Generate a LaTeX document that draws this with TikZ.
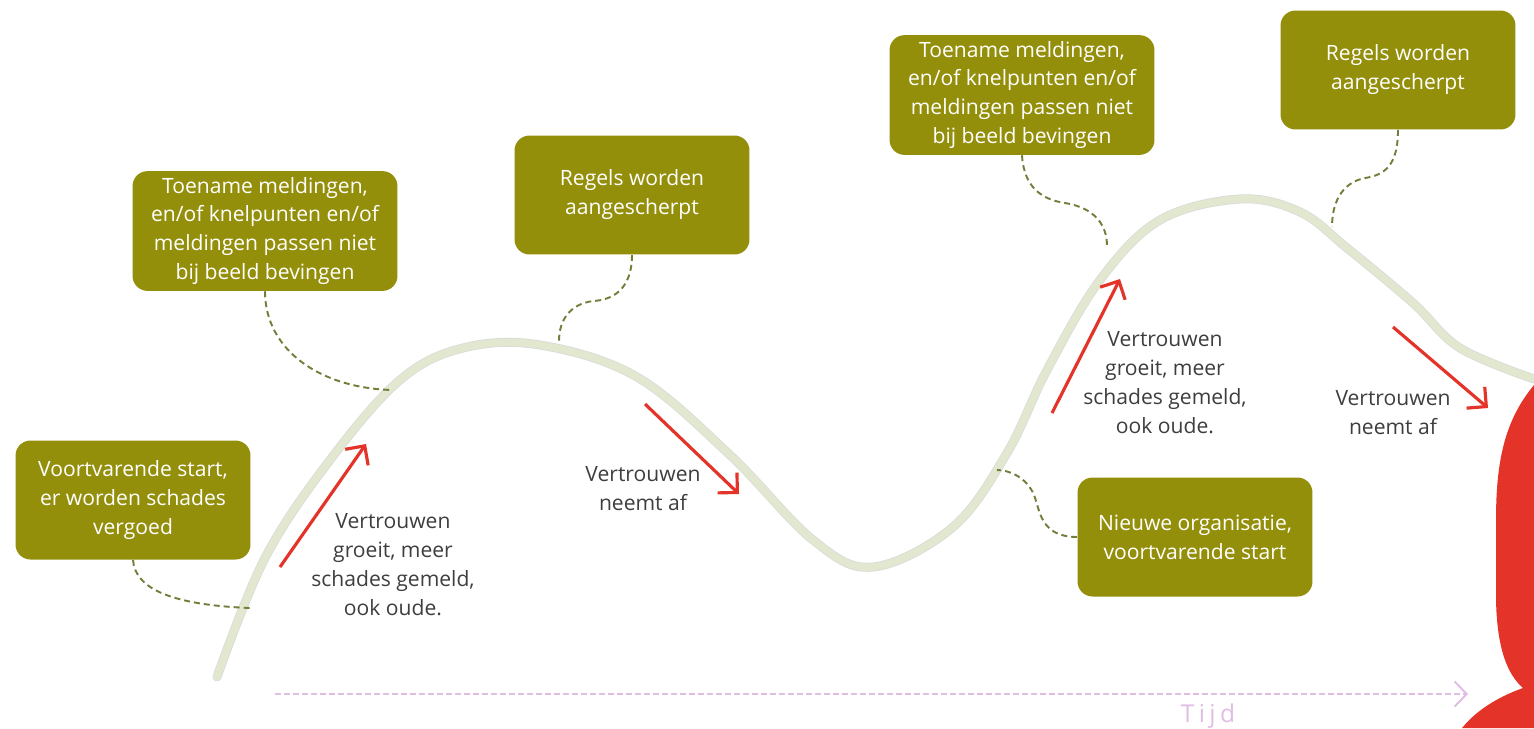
\documentclass[tikz,border=0pt]{standalone}
\usepackage{fontspec}
\setmainfont{Open Sans}
\usepackage{tikz}
\usetikzlibrary{arrows.meta, positioning}
\definecolor{olive}{RGB}{148,143,11}
\definecolor{linkgreen}{RGB}{112,128,58}
\definecolor{curvegreen}{RGB}{226,232,207}
\definecolor{trendred}{RGB}{228,52,42}
\definecolor{textgray}{RGB}{62,62,62}
\definecolor{timepink}{RGB}{224,190,228}
\newfontfamily\timefont[LetterSpace=18]{Open Sans}
\tikzset{
    note/.style={rectangle, rounded corners=0.3cm, minimum width=4.7cm, minimum height=2.38cm, text centered, fill=olive, text=white, align=center, font=\fontsize{12}{16.5}\selectfont},
    widenote/.style={note, minimum width=5.3cm},
    lbl/.style={text centered, align=center, text=textgray, font=\fontsize{12}{16.5}\selectfont},
    link/.style={thick, draw=linkgreen, line width=1.1pt, dash pattern=on 0.12cm off 0.08cm},
    trend/.style={-{Straight Barb[length=2.8mm, width=5.6mm]}, line width=1.8pt, draw=trendred},
    timeline/.style={-{Straight Barb[length=2.4mm, width=5mm]}, line width=1.1pt, draw=timepink, dash pattern=on 0.12cm off 0.06cm}
}
\begin{document}
\begin{tikzpicture}[x=0.02cm, y=-0.02cm]
    \useasboundingbox (0,0) rectangle (1534,728);

    % Red shape at the right edge
    \fill[trendred] (1534,385) .. controls (1505,420) and (1496,460) .. (1496,520) -- (1496,600)
        .. controls (1497,650) and (1508,675) .. (1523,688) .. controls (1495,698) and (1475,712) .. (1462,728)
        -- (1534,728) -- cycle;

    % Trust curve
    \draw[line width=0.18cm, color=gray!30, line cap=round] plot[smooth, tension=0.6] coordinates {(217,677) (265,558) (330,460) (400,380) (463,348) (540,345) (637,377) (730,455) (813,540) (873,567) (953,527) (1007,453) (1047,370) (1100,280) (1160,220) (1240,199) (1300,212) (1347,248) (1413,303) (1460,348) (1534,379)};
    \draw[line width=0.15cm, color=curvegreen, line cap=round] plot[smooth, tension=0.6] coordinates {(217,677) (265,558) (330,460) (400,380) (463,348) (540,345) (637,377) (730,455) (813,540) (873,567) (953,527) (1007,453) (1047,370) (1100,280) (1160,220) (1240,199) (1300,212) (1347,248) (1413,303) (1460,348) (1534,379)};

    % Boxes
    \node[note] (start) at (133,500) {Voortvarende start,\\ er worden schades\\ vergoed};
    \node[widenote] (meldingen1) at (265,231) {Toename meldingen,\\ en/of knelpunten en/of\\ meldingen passen niet\\ bij beeld bevingen};
    \node[note] (regels1) at (632,195) {Regels worden\\ aangescherpt};
    \node[widenote] (meldingen2) at (1022,95) {Toename meldingen,\\ en/of knelpunten en/of\\ meldingen passen niet\\ bij beeld bevingen};
    \node[note] (regels2) at (1398,70) {Regels worden\\ aangescherpt};
    \node[note] (nieuw) at (1195,537) {Nieuwe organisatie,\\ voortvarende start};

    % Points on the curve
    \coordinate (p1) at (250,608);
    \coordinate (p2) at (392,390);
    \coordinate (p3) at (559,341);
    \coordinate (p4) at (1107,246);
    \coordinate (p5) at (1332,227);
    \coordinate (p6) at (997,470);

    % Dashed links
    \draw[link] (start.south) .. controls (135,590) and (175,605) .. (p1);
    \draw[link] (meldingen1.south) .. controls (265,350) and (320,388) .. (p2);
    \draw[link] (regels1.south) .. controls (632,290) and (612,300) .. (593,301) .. controls (570,304) and (559,320) .. (p3);
    \draw[link] (meldingen2.south) .. controls (1024,190) and (1045,200) .. (1065,203) .. controls (1095,208) and (1107,225) .. (p4);
    \draw[link] (regels2.south) .. controls (1398,165) and (1385,175) .. (1365,178) .. controls (1340,183) and (1332,205) .. (p5);
    \draw[link] (nieuw.west) .. controls (1040,537) and (1040,510) .. (1034,495) .. controls (1027,478) and (1010,470) .. (p6);

    % Trend arrows
    \coordinate (a1) at (280,567); \coordinate (b1) at (366,444);
    \coordinate (a2) at (645,404); \coordinate (b2) at (739,494);
    \coordinate (a3) at (1052,413); \coordinate (b3) at (1120,279);
    \coordinate (a4) at (1393,327); \coordinate (b4) at (1488,408);
    \draw[trend] (a1) -- (b1);
    \draw[trend] (a2) -- (b2);
    \draw[trend] (a3) -- (b3);
    \draw[trend] (a4) -- (b4);

    % Labels
    \node[lbl] (groei1) at (393,565) {Vertrouwen\\ groeit, meer\\ schades gemeld,\\ ook oude.};
    \node[lbl] (afname1) at (643,489) {Vertrouwen\\ neemt af};
    \node[lbl] (groei2) at (1165,383) {Vertrouwen\\ groeit, meer\\ schades gemeld,\\ ook oude.};
    \node[lbl] (afname2) at (1393,413) {Vertrouwen\\ neemt af};

    % Time axis
    \coordinate (t0) at (275,694);
    \coordinate (t1) at (1468,694);
    \draw[timeline] (t0) -- (t1);
    \node[text=timepink, font=\timefont\fontsize{14}{16}\selectfont] (tijd) at (1208,716) {Tijd};
\end{tikzpicture}
\end{document}
